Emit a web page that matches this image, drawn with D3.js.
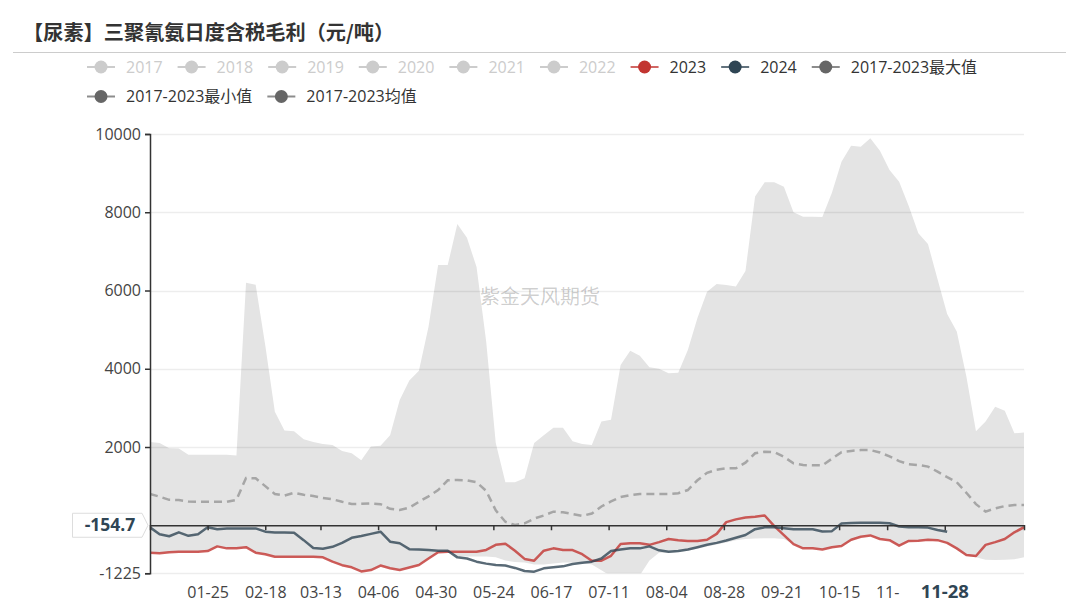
<!DOCTYPE html>
<html><head><meta charset="utf-8">
<script src="https://cdn.jsdelivr.net/npm/d3@7/dist/d3.min.js"></script>
<style>body{margin:0;background:#fff}svg{display:block}</style>
</head><body><svg id="c" width="1080" height="607"></svg>
<script>
const title = "【尿素】三聚氰氨日度含税毛利（元/吨）";
const watermark = "紫金天风期货";
const legendRow1 = ["2017","2018","2019","2020","2021","2022","2023","2024","2017-2023最大值"];
const legendRow2 = ["2017-2023最小值","2017-2023均值"];
const disabledSeries = ["2017","2018","2019","2020","2021","2022"];
const seriesColors = {"2023":"#c23531","2024":"#2f4554","2017-2023最大值":"#666","2017-2023最小值":"#666","2017-2023均值":"#666"};

// category axis: every day of the year
const days = d3.timeDay.range(new Date(2023,0,1), new Date(2024,0,1)).map(d3.timeFormat("%m-%d"));
// values read every 4th day
const sampleDays = days.filter((d,i)=>i%4===0);
const xTickDays = ["01-25","02-18","03-13","04-06","04-30","05-24","06-17","07-11","08-04","08-28","09-21","10-15","11-04","11-28"];
// 11-28 is shown by the highlighted pointer label instead of a normal label
const xTickText = ["01-25","02-18","03-13","04-06","04-30","05-24","06-17","07-11","08-04","08-28","09-21","10-15","11-",""];
const yTicks = [10000,8000,6000,4000,2000,-1225];
const pointerY = "-154.7";
const pointerX = "11-28";

const maxVals = [2130,2100,1970,1960,1800,1800,1800,1800,1800,1780,
 6200,6150,4600,2900,2420,2400,2200,2130,2080,2050,
 1900,1840,1660,2010,2030,2300,3200,3700,3950,5075,
 6650,6650,7700,7350,6600,4700,2100,1100,1100,1200,
 2100,2300,2494,2494,2150,2077,2050,2650,2700,4096,
 4460,4330,4040,4000,3883,3900,4479,5300,5970,6166,
 6140,6100,6500,8400,8766,8766,8650,8000,7887,7887,
 7880,8500,9293,9700,9676,9890,9574,9080,8782,8160,
 7461,7189,6286,5400,4950,3800,2400,2650,3030,2928,
 2350,2370];
const minVals = [-700,-717,-690,-675,-675,-675,-660,-540,-590,-590,
 -560,-700,-740,-804,-804,-804,-804,-804,-820,-930,
 -1020,-1075,-1180,-1144,-1030,-1100,-1144,-1080,-1016,-850,
 -690,-690,-790,-800,-800,-800,-820,-900,-940,-950,
 -1000,-1000,-980,-950,-950,-960,-1000,-1150,-1300,-1300,
 -1300,-1280,-900,-700,-700,-680,-650,-600,-540,-490,
 -440,-380,-350,-340,-330,-330,-350,-480,-590,-590,
 -620,-560,-530,-400,-300,-270,-360,-390,-530,-410,
 -400,-380,-390,-460,-620,-780,-820,-880,-890,-880,
 -870,-820];
const meanVals = [800,730,650,645,605,602,602,602,602,650,
 1210,1200,1000,800,760,830,780,748,700,663,
 600,543,550,560,540,420,390,450,600,740,
 900,1150,1157,1150,1100,880,380,90,6,50,
 170,250,347,330,288,240,300,480,610,720,
 773,799,799,799,799,820,900,1150,1340,1420,
 1455,1455,1600,1840,1881,1870,1750,1583,1540,1531,
 1531,1700,1870,1900,1923,1923,1860,1760,1640,1560,
 1540,1500,1370,1230,1100,830,540,350,430,490,
 518,518];
const v2023 = [-700,-717,-690,-675,-675,-675,-660,-540,-590,-590,
 -560,-700,-740,-804,-804,-804,-804,-804,-820,-930,
 -1020,-1075,-1180,-1144,-1030,-1100,-1144,-1080,-1016,-850,
 -690,-675,-675,-675,-675,-630,-500,-470,-650,-860,
 -906,-650,-590,-633,-633,-740,-906,-906,-780,-480,
 -462,-462,-500,-430,-350,-380,-400,-400,-370,-220,
 80,150,200,219,250,-20,-250,-480,-590,-590,
 -620,-560,-530,-370,-292,-260,-350,-380,-520,-400,
 -394,-370,-380,-450,-590,-760,-786,-500,-430,-350,
 -180,-50];
const v2024 = [-53,-230,-280,-180,-270,-230,-53,-100,-80,-80,
 -80,-80,-164,-182,-182,-190,-380,-580,-600,-550,
 -450,-320,-275,-220,-164,-420,-460,-610,-620,-630,
 -650,-650,-820,-850,-930,-980,-1016,-1030,-1090,-1170,
 -1186,-1100,-1070,-1050,-990,-960,-930,-850,-660,-620,
 -590,-590,-540,-640,-675,-660,-620,-560,-500,-450,
 -390,-320,-250,-100,-53,-53,-75,-104,-104,-104,
 -160,-150,45,60,66,66,66,50,-30,-50,
 -53,-60,-120,-164];

const svg = d3.select("#c");
const L = 150, R = 1024, T = 134, B = 573.2;
const x = d3.scalePoint().domain(days).range([L, R]);
const y = d3.scaleLinear().domain([-1225, 10000]).range([B, T]);
const FONT = "'Open Sans','Noto Sans CJK SC',sans-serif";

svg.append("rect").attr("width",1080).attr("height",607).attr("fill","#fff");

// title
svg.append("text").attr("x",23).attr("y",40).text(title)
  .attr("font-family","'Noto Sans CJK SC',sans-serif").attr("font-weight","bold")
  .attr("font-size",20.2).attr("fill","#333");
svg.append("line").attr("x1",13).attr("x2",1066).attr("y1",52.5).attr("y2",52.5)
  .attr("stroke","#ccc").attr("stroke-width",1);

// legend
function drawLegendRow(names, x0, cy){
  let cx = x0;
  names.forEach(n=>{
    const off = disabledSeries.includes(n);
    const c = off ? "#ccc" : seriesColors[n];
    const g = svg.append("g").attr("transform",`translate(${cx},${cy})`);
    g.append("line").attr("x1",0).attr("x2",28).attr("y1",0).attr("y2",0)
      .attr("stroke",c).attr("stroke-width",2).attr("opacity", off?1:0.75);
    g.append("circle").attr("cx",14).attr("cy",0).attr("r",6.5).attr("fill",c);
    const t = g.append("text").attr("x",39).attr("y",0).attr("dy","0.35em").text(n)
      .attr("font-family",FONT).attr("font-size",16).attr("fill", off?"#ccc":"#333");
    cx += 39 + t.node().getComputedTextLength() + 15;
  });
}
drawLegendRow(legendRow1, 87, 67);
drawLegendRow(legendRow2, 87, 96.5);

svg.append("clipPath").attr("id","plot").append("rect")
  .attr("x",L).attr("y",T).attr("width",R-L).attr("height",B-T);
const plot = svg.append("g").attr("clip-path","url(#plot)");

// band between min and max
const band = d3.area().x((d,i)=>x(sampleDays[i]))
  .y0((d,i)=>y(minVals[i])).y1((d,i)=>y(maxVals[i]));
plot.append("path").datum(maxVals).attr("d",band).attr("fill","#e4e4e4");

// gridlines
svg.append("g").selectAll("line").data(yTicks).join("line")
  .attr("x1",L).attr("x2",R).attr("y1",d=>Math.round(y(d))+0.5).attr("y2",d=>Math.round(y(d))+0.5)
  .attr("stroke","rgba(0,0,0,0.07)").attr("stroke-width",1.5);

const line = d3.line().x((d,i)=>x(sampleDays[i])).y(d=>y(d));
plot.append("path").datum(meanVals).attr("d",line).attr("fill","none")
  .attr("stroke","#a6a6a6").attr("stroke-width",2.5).attr("stroke-dasharray","8,5");
plot.append("path").datum(v2023).attr("d",line).attr("fill","none")
  .attr("stroke","#c23531").attr("stroke-opacity",0.8).attr("stroke-width",2.5).attr("stroke-linejoin","round");
plot.append("path").datum(v2024).attr("d",line).attr("fill","none")
  .attr("stroke","#2f4554").attr("stroke-opacity",0.8).attr("stroke-width",2.5).attr("stroke-linejoin","round");

// y axis
const yAxis = svg.append("g").attr("transform",`translate(${L},0)`)
  .call(d3.axisLeft(y).tickValues(yTicks).tickSize(5).tickPadding(4).tickFormat(d=>String(d)));
yAxis.select(".domain").attr("stroke","#333").attr("stroke-width",1.5);
yAxis.selectAll(".tick line").attr("stroke","#333").attr("stroke-width",1.5);
yAxis.selectAll("text").attr("font-family",FONT).attr("font-size",16).attr("fill","#444");

// x axis at zero
const xAxis = svg.append("g").attr("transform",`translate(0,${y(0)})`)
  .call(d3.axisBottom(x).tickValues(xTickDays).tickSize(5).tickPadding(56)
    .tickFormat((d,i)=>xTickText[i]));
xAxis.select(".domain").attr("stroke","#333").attr("stroke-width",1.5);
xAxis.selectAll(".tick line").attr("stroke","#333").attr("stroke-width",1.5);
xAxis.selectAll("text").attr("font-family",FONT).attr("font-size",16).attr("fill","#444");

// watermark
svg.append("text").attr("x",540).attr("y",297).attr("dy","0.35em").attr("text-anchor","middle")
  .text(watermark).attr("font-family","'Noto Sans CJK SC',sans-serif").attr("font-size",20)
  .attr("fill","rgba(0,0,0,0.2)");

// pointer label on x axis
const px = x(pointerX);
svg.append("text").attr("x",px).attr("y",592).attr("dy","0.35em").attr("text-anchor","middle")
  .text(pointerX).attr("font-family",FONT).attr("font-weight","bold").attr("font-size",18.5).attr("fill","#2f4554");

// pointer label on y axis
const py = y(0);
svg.append("path").attr("d",`M72.5,${py-12} L142,${py-12} L148,${py} L142,${py+12} L72.5,${py+12} Z`)
  .attr("fill","#fff").attr("stroke","#ddd").attr("stroke-width",1);
svg.append("text").attr("x",110).attr("y",py).attr("dy","0.35em").attr("text-anchor","middle")
  .text(pointerY).attr("font-family",FONT).attr("font-weight","bold").attr("font-size",17.5).attr("fill","#2f4554");
</script></body></html>
